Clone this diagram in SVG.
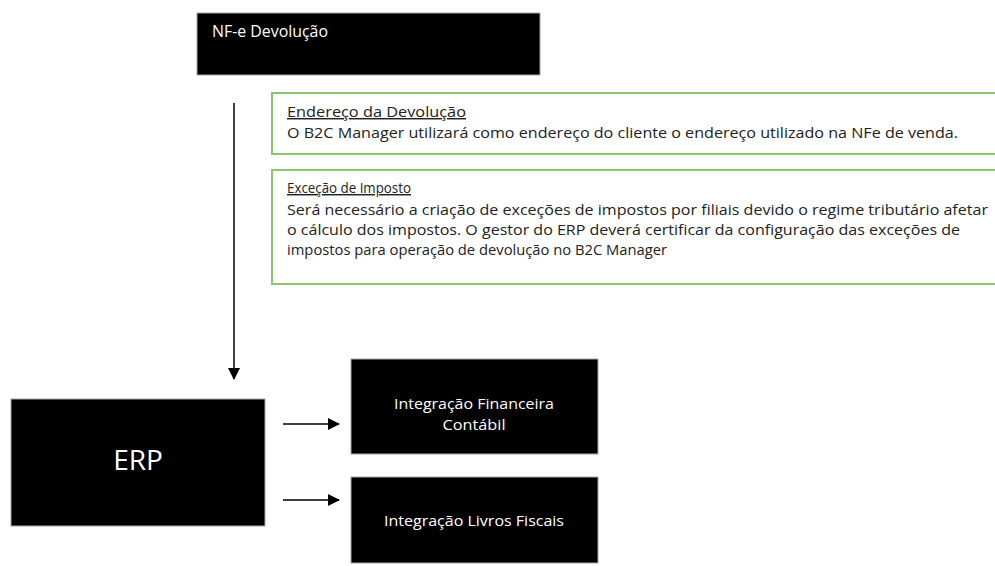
<svg xmlns="http://www.w3.org/2000/svg" width="995" height="566" viewBox="0 0 995 566">
<style>
.blk{fill:#000;stroke:#a6a6a6;stroke-width:1}
.grn{fill:#fff;stroke:#8cc56a;stroke-width:2}
.wt{fill:#fff;font-family:"Open Sans","Liberation Sans",sans-serif}
.bt{fill:#222;font-family:"Open Sans","Liberation Sans",sans-serif;font-size:14.5px}
.ul{text-decoration:underline}
.con{stroke:#000;stroke-width:1.5;fill:none}
</style>
<defs>
<marker id="ah" viewBox="0 0 12 12" refX="11" refY="6" markerWidth="12" markerHeight="12" markerUnits="userSpaceOnUse" orient="auto">
<path d="M0,0 L12,6 L0,12 z" fill="#000"/>
</marker>
</defs>
<rect width="995" height="566" fill="#fff"/>
<g id="nfe">
<rect class="blk" x="197" y="13" width="343" height="62"/>
<text class="wt" x="212" y="37" font-size="16" textLength="116" lengthAdjust="spacingAndGlyphs">NF-e Devolução</text>
</g>
<g id="endereco">
<rect class="grn" x="272" y="93" width="740" height="61"/>
<text class="bt ul" x="287" y="117" textLength="179" lengthAdjust="spacingAndGlyphs">Endereço da Devolução</text>
<text class="bt" x="287" y="138" textLength="671" lengthAdjust="spacingAndGlyphs">O B2C Manager utilizará como endereço do cliente o endereço utilizado na NFe de venda.</text>
</g>
<g id="excecao">
<rect class="grn" x="272" y="170" width="740" height="114"/>
<text class="bt ul" x="287" y="193" textLength="124" lengthAdjust="spacingAndGlyphs">Exceção de Imposto</text>
<text class="bt" x="287" y="215" textLength="701" lengthAdjust="spacingAndGlyphs">Será necessário a criação de exceções de impostos por filiais devido o regime tributário afetar</text>
<text class="bt" x="287" y="235" textLength="673" lengthAdjust="spacingAndGlyphs">o cálculo dos impostos. O gestor do ERP deverá certificar da configuração das exceções de</text>
<text class="bt" x="287" y="255" textLength="380" lengthAdjust="spacingAndGlyphs">impostos para operação de devolução no B2C Manager</text>
</g>
<g id="erp">
<rect class="blk" x="11" y="399" width="254" height="127"/>
<text class="wt" x="138" y="470" font-size="28" text-anchor="middle">ERP</text>
</g>
<g id="fin">
<rect class="blk" x="351" y="359" width="247" height="95"/>
<text class="wt" x="474" y="409" font-size="15" text-anchor="middle" textLength="160" lengthAdjust="spacingAndGlyphs">Integração Financeira</text>
<text class="wt" x="474" y="430" font-size="15" text-anchor="middle" textLength="63" lengthAdjust="spacingAndGlyphs">Contábil</text>
</g>
<g id="livros">
<rect class="blk" x="351" y="477" width="247" height="86"/>
<text class="wt" x="474" y="526" font-size="15" text-anchor="middle" textLength="180" lengthAdjust="spacingAndGlyphs">Integração Livros Fiscais</text>
</g>
<g id="connectors">
<line class="con" x1="234" y1="103" x2="234" y2="379" marker-end="url(#ah)"/>
<line class="con" x1="283" y1="424" x2="339" y2="424" marker-end="url(#ah)"/>
<line class="con" x1="283" y1="500" x2="339" y2="500" marker-end="url(#ah)"/>
</g>
</svg>
